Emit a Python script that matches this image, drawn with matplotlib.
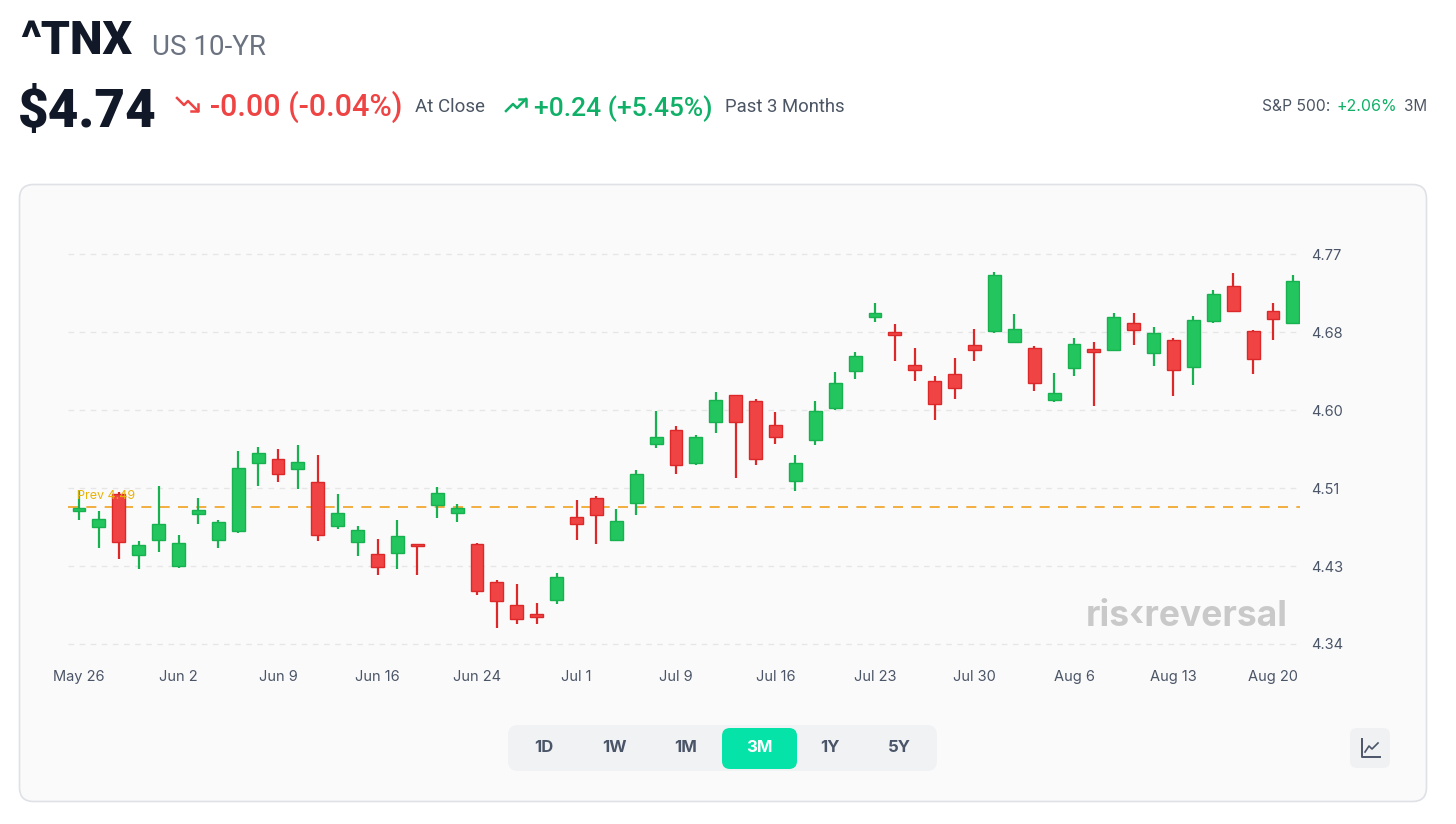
import matplotlib
matplotlib.use("Agg")
import matplotlib.pyplot as plt
from matplotlib.patches import FancyBboxPatch
from matplotlib.lines import Line2D

plt.rcParams['font.family'] = ['Inter', 'DejaVu Sans']

# ---------------- data ----------------
dates = ["May 26", "Jun 2", "Jun 9", "Jun 16", "Jun 24", "Jul 1", "Jul 9",
         "Jul 16", "Jul 23", "Jul 30", "Aug 6", "Aug 13", "Aug 20"]
opens = [4.488, 4.470, 4.506, 4.440, 4.456, 4.428, 4.485, 4.456, 4.466, 4.540,
         4.545, 4.534, 4.520, 4.471, 4.454, 4.441, 4.442, 4.451, 4.494, 4.486,
         4.452, 4.410, 4.385, 4.375, 4.390, 4.481, 4.502, 4.456, 4.497, 4.561,
         4.577, 4.540, 4.585, 4.615, 4.608, 4.582, 4.521, 4.566, 4.601, 4.641,
         4.700, 4.684, 4.648, 4.630, 4.638, 4.670, 4.685, 4.673, 4.666, 4.610,
         4.645, 4.665, 4.664, 4.694, 4.661, 4.675, 4.646, 4.696, 4.734, 4.685,
         4.707, 4.694]
highs = [4.511, 4.488, 4.509, 4.455, 4.515, 4.462, 4.502, 4.478, 4.554, 4.558,
         4.556, 4.560, 4.549, 4.506, 4.471, 4.457, 4.478, 4.451, 4.514, 4.496,
         4.453, 4.412, 4.408, 4.387, 4.420, 4.500, 4.504, 4.490, 4.533, 4.597,
         4.581, 4.571, 4.618, 4.615, 4.611, 4.596, 4.549, 4.608, 4.640, 4.662,
         4.716, 4.693, 4.666, 4.636, 4.656, 4.687, 4.750, 4.704, 4.669, 4.639,
         4.677, 4.673, 4.705, 4.705, 4.690, 4.677, 4.702, 4.730, 4.749, 4.686,
         4.716, 4.747]
lows = [4.478, 4.447, 4.435, 4.424, 4.443, 4.425, 4.474, 4.447, 4.464, 4.515,
        4.520, 4.512, 4.455, 4.468, 4.438, 4.418, 4.424, 4.418, 4.480, 4.476,
        4.396, 4.360, 4.364, 4.364, 4.386, 4.456, 4.452, 4.455, 4.483, 4.557,
        4.528, 4.538, 4.573, 4.524, 4.538, 4.561, 4.510, 4.560, 4.599, 4.633,
        4.695, 4.652, 4.630, 4.588, 4.611, 4.652, 4.683, 4.673, 4.619, 4.607,
        4.636, 4.603, 4.664, 4.670, 4.647, 4.614, 4.626, 4.694, 4.706, 4.638,
        4.675, 4.694]
closes = [4.491, 4.479, 4.454, 4.451, 4.474, 4.453, 4.489, 4.476, 4.535, 4.551,
          4.528, 4.542, 4.462, 4.486, 4.467, 4.426, 4.460, 4.449, 4.508, 4.491,
          4.400, 4.389, 4.369, 4.372, 4.415, 4.474, 4.483, 4.477, 4.528, 4.569,
          4.538, 4.569, 4.610, 4.585, 4.545, 4.569, 4.540, 4.597, 4.628, 4.658,
          4.705, 4.681, 4.642, 4.605, 4.623, 4.664, 4.747, 4.687, 4.628, 4.617,
          4.671, 4.662, 4.700, 4.686, 4.683, 4.642, 4.697, 4.726, 4.707, 4.654,
          4.698, 4.740]
prev_close = 4.492
ytick_values = [4.342, 4.4275, 4.513, 4.5985, 4.684, 4.7695]
ytick_labels = ["4.34", "4.43", "4.51", "4.60", "4.68", "4.77"]
date_every = 5
ranges = ["1D", "1W", "1M", "3M", "1Y", "5Y"]
active_range = "3M"

# ---------------- figure ----------------
W, H = 1456, 824
fig = plt.figure(figsize=(W / 100, H / 100), dpi=100)
fig.patch.set_facecolor("white")
renderer = fig.canvas.get_renderer()

bg = fig.add_axes([0, 0, 1, 1], zorder=0)
bg.set_xlim(0, W)
bg.set_ylim(H, 0)
bg.axis("off")

DARK = "#111827"
RED = "#ef4444"
GREEN = "#10b068"
HEAD = ['Roboto', 'DejaVu Sans']


def fit_text(x0, x1, y, s, fs, **kw):
    """Place text starting at x0 and scale the font so it ends near x1."""
    t = bg.text(x0, y, s, fontsize=fs, va="baseline", ha="left", **kw)
    w = t.get_window_extent(renderer).width
    if w > 0:
        t.set_fontsize(fs * (x1 - x0) / w)
    return t


# card
card = FancyBboxPatch((19.5, 184.5), 1407, 617, boxstyle="round,pad=0,rounding_size=14",
                      fc="#fafafa", ec="#dfe1e6", lw=1.2, zorder=1)
bg.add_patch(card)

# header
fit_text(20, 132, 54, "^TNX", 32, fontweight="heavy", color=DARK, family=HEAD)
fit_text(152, 266, 55, "US 10-YR", 19, color="#6b7280", family=HEAD)
fit_text(18, 157, 127, "$4.74", 42, fontweight="heavy", color=DARK, family=HEAD)
fit_text(210, 402, 116, "-0.00 (-0.04%)", 21, fontweight="medium", color=RED, family=HEAD)
fit_text(415, 485, 112, "At Close", 13, color="#4b5563", family=HEAD)
fit_text(534, 712, 116, "+0.24 (+5.45%)", 21, fontweight="medium", color=GREEN, family=HEAD)
fit_text(725, 845, 112, "Past 3 Months", 13, color="#4b5563", family=HEAD)
fit_text(1262, 1330, 111, "S&P 500:", 10.5, color="#4b5563")
fit_text(1337, 1397, 111, "+2.06%", 10.5, color=GREEN)
fit_text(1404, 1427, 111, "3M", 10.5, color="#4b5563")

# trend icons
bg.add_line(Line2D([177, 184, 188, 198], [98, 105, 101, 111], color=RED, lw=1.8, zorder=3))
bg.add_line(Line2D([191, 198, 198], [111, 111, 104], color=RED, lw=1.8, zorder=3))
bg.add_line(Line2D([506, 513, 517, 526], [111, 104, 108, 99], color=GREEN, lw=1.8, zorder=3))
bg.add_line(Line2D([519, 526, 526], [99, 99, 106], color=GREEN, lw=1.8, zorder=3))

# range buttons
bg.add_patch(FancyBboxPatch((508, 725), 429, 46, boxstyle="round,pad=0,rounding_size=10",
                            fc="#f1f2f4", ec="none", zorder=2))
btn_x = [544, 614, 686, 759, 830, 899]
for lab, bx in zip(ranges, btn_x):
    col = "#4b5568"
    if lab == active_range:
        bg.add_patch(FancyBboxPatch((722, 728), 75, 41, boxstyle="round,pad=0,rounding_size=8",
                                    fc="#06e3a8", ec="none", zorder=3))
        col = "white"
    bg.text(bx, 748, lab, fontsize=12, fontweight="bold", color=col, ha="center",
            va="center", zorder=4)

# chart-type icon button
bg.add_patch(FancyBboxPatch((1350, 728), 40, 40, boxstyle="round,pad=0,rounding_size=7",
                            fc="#f0f1f3", ec="none", zorder=2))
bg.add_line(Line2D([1362, 1362, 1380], [739, 757, 757], color="#4b5568", lw=1.4, zorder=3))
bg.add_line(Line2D([1365, 1369, 1372, 1378], [752, 746, 749, 743], color="#4b5568", lw=1.2, zorder=3))

# watermark
bg.text(1187, 616, "ris\u2039reversal", fontsize=25.5, fontweight="bold", color="#c9c9c9",
        ha="center", va="center", zorder=2)

# ---------------- candlestick axes ----------------
ax_l, ax_r, ax_t, ax_b = 68, 1300, 240, 655
ax = fig.add_axes([ax_l / W, 1 - ax_b / H, (ax_r - ax_l) / W, (ax_b - ax_t) / H], zorder=5)
ax.set_facecolor("none")
ax.set_xlim(-0.553, 61.357)
ax.set_ylim(4.32994, 4.78486)
for s in ax.spines.values():
    s.set_visible(False)
ax.set_xticks([])
ax.set_yticks([])

for v, lab in zip(ytick_values, ytick_labels):
    ax.axhline(v, color="#e6e6e6", lw=1, dashes=(4, 4), zorder=1)
    ax.text(1.009, v, lab, transform=ax.get_yaxis_transform(), fontsize=10.5,
            color="#4b5568", ha="left", va="center_baseline")

xt = ax.get_xaxis_transform()
for k, lab in enumerate(dates):
    ax.text(k * date_every, -0.053, lab, transform=xt, fontsize=10.5, color="#4b5568",
            ha="center", va="center")

ax.axhline(prev_close, color="#f0a020", lw=1.2, dashes=(6, 5), zorder=2)
ax.text(-0.1, prev_close + 0.006, "Prev 4.49", fontsize=9, color="#eab308",
        ha="left", va="bottom", zorder=6)

GFILL, GEDGE = "#22c55e", "#17b150"
RFILL, REDGE = "#f04444", "#dc2828"
bw = 0.65
for i, (o, h, l, c) in enumerate(zip(opens, highs, lows, closes)):
    up = c >= o
    fc = GFILL if up else RFILL
    ec = GEDGE if up else REDGE
    ax.vlines(i, l, h, color=ec, lw=1.6, zorder=3)
    lo = min(o, c)
    ht = max(abs(c - o), 0.0022)
    ax.bar(i, ht, bottom=lo, width=bw, color=fc, edgecolor=ec, lw=1.0, zorder=4)

fig.savefig("out.png", dpi=100, facecolor="white")
